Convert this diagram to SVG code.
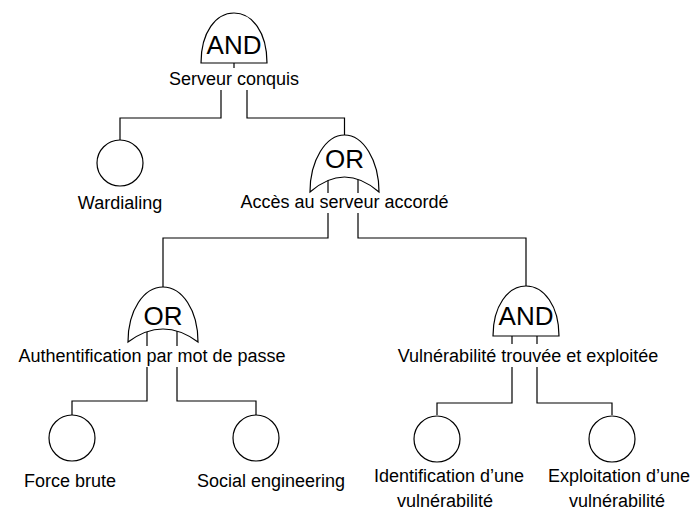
<svg xmlns="http://www.w3.org/2000/svg" width="699" height="513" viewBox="0 0 699 513">
<style>
.g{fill:#fff;stroke:#000;stroke-width:1.2}
.c{fill:none;stroke:#000;stroke-width:1.2}
.t{font-family:"Liberation Sans",Arial,sans-serif;font-size:18px;fill:#000;text-anchor:middle}
.gt{font-family:"Liberation Sans",Arial,sans-serif;font-size:26px;fill:#000;text-anchor:middle}
</style>
<rect width="699" height="513" fill="#fff"/>
<g id="connectors" class="c">
<path d="M234,63 V68"/>
<path d="M221,90 V118 H120 V140"/>
<path d="M247,90 V118 H344.5 V135"/>
<path d="M328,177 V193 M358,177 V193"/>
<path d="M328,213 V238 H163 V287"/>
<path d="M358,213 V238 H526 V286"/>
<path d="M147,330 V346 M177,330 V346"/>
<path d="M147,367 V401 H72 V415"/>
<path d="M177,367 V401 H256 V415"/>
<path d="M512,336 V344 M537,336 V344"/>
<path d="M512,367 V403 H437 V415"/>
<path d="M537,367 V403 H612 V415"/>
</g>
<g id="and-top">
<path class="g" d="M201,63 C201,32 216,13 234,13 C252,13 267,32 267,63 Z"/>
<text class="gt" x="234" y="54">AND</text>
<text class="t" x="234" y="85">Serveur conquis</text>
</g>
<g id="wardialing">
<circle class="g" cx="120" cy="163" r="23"/>
<text class="t" x="120" y="209">Wardialing</text>
</g>
<g id="or-acces">
<path class="g" d="M310,192 C310,160 326,135 344.5,135 C363,135 379,160 379,192 Q344.5,162 310,192 Z"/>
<text class="gt" x="344.5" y="168">OR</text>
<text class="t" x="344.5" y="208">Accès au serveur accordé</text>
</g>
<g id="or-auth">
<path class="g" d="M128,342 C128,310 144,287 163,287 C182,287 198,310 198,342 Q163,316 128,342 Z"/>
<text class="gt" x="163" y="325">OR</text>
<text class="t" x="152" y="362">Authentification par mot de passe</text>
</g>
<g id="and-vuln">
<path class="g" d="M493,336 C493,306 508,286 526,286 C544,286 559,306 559,336 Z"/>
<text class="gt" x="526" y="325">AND</text>
<text class="t" x="528" y="362">Vulnérabilité trouvée et exploitée</text>
</g>
<g id="force-brute">
<circle class="g" cx="72" cy="438" r="23"/>
<text class="t" x="70" y="487">Force brute</text>
</g>
<g id="social-engineering">
<circle class="g" cx="256" cy="438" r="23"/>
<text class="t" x="271" y="487">Social engineering</text>
</g>
<g id="identification">
<circle class="g" cx="437" cy="439" r="23"/>
<text class="t" x="449" y="482">Identification d’une</text>
<text class="t" x="445" y="507">vulnérabilité</text>
</g>
<g id="exploitation">
<circle class="g" cx="612" cy="439" r="23"/>
<text class="t" x="619" y="482">Exploitation d’une</text>
<text class="t" x="617" y="507">vulnérabilité</text>
</g>
</svg>
